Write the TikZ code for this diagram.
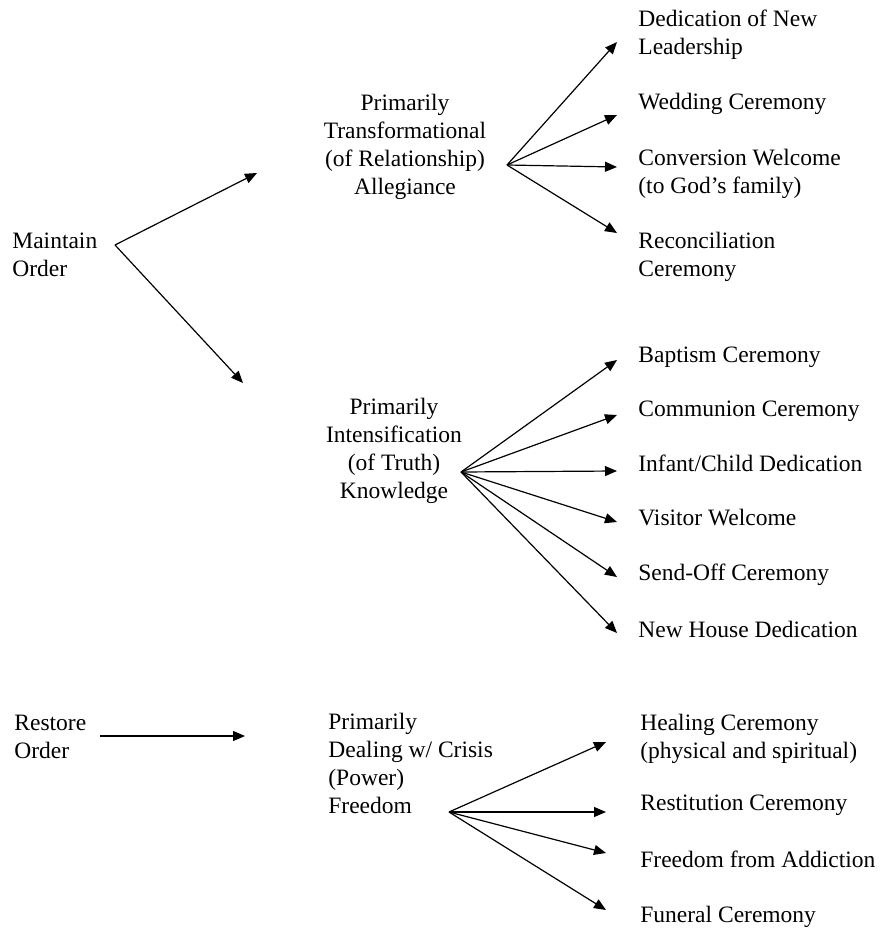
\documentclass[tikz,border=0pt]{standalone}
\usepackage{fontspec}
\setmainfont{Liberation Serif}
\usetikzlibrary{arrows.meta}

\begin{document}
\begin{tikzpicture}[
  x=0.5pt, y=-0.5pt,
  lbl/.style={anchor=base west, inner sep=0pt, align=left, font=\fontsize{11.75}{14}\selectfont},
  mid/.style={lbl, anchor=base, align=center},
  arr/.style={-{Triangle[length=6pt,width=5pt]}, line width=0.6pt}
]
\useasboundingbox (0,0) rectangle (882,930);

\node[lbl] (maintain) at (12,277) {Maintain\\Order};
\node[lbl] (restore) at (14,758) {Restore\\Order};

\node[mid] (transf) at (405,195) {Primarily\\Transformational\\(of Relationship)\\Allegiance};
\node[mid] (intens) at (394,498) {Primarily\\Intensification\\(of Truth)\\Knowledge};
\node[lbl] (crisis) at (328,813) {Primarily\\Dealing w/ Crisis\\(Power)\\Freedom};

\node[lbl] (newlead) at (638,55) {Dedication of New\\Leadership};
\node[lbl] (wedding) at (638,110) {Wedding Ceremony};
\node[lbl] (convert) at (638,194) {Conversion Welcome\\(to God’s family)};
\node[lbl] (reconcile) at (638,277) {Reconciliation\\Ceremony};

\node[lbl] (baptism) at (638,362) {Baptism Ceremony};
\node[lbl] (communion) at (638,416) {Communion Ceremony};
\node[lbl] (infant) at (638,471) {Infant/Child Dedication};
\node[lbl] (visitor) at (638,525) {Visitor Welcome};
\node[lbl] (sendoff) at (638,580) {Send-Off Ceremony};
\node[lbl] (newhouse) at (638,637) {New House Dedication};

\node[lbl] (healing) at (640,758) {Healing Ceremony\\(physical and spiritual)};
\node[lbl] (restitute) at (640,810) {Restitution Ceremony};
\node[lbl] (addiction) at (640,867) {Freedom from Addiction};
\node[lbl] (funeral) at (640,922) {Funeral Ceremony};

\coordinate (mhub) at (115,245);
\coordinate (mtop) at (257,173);
\coordinate (mbot) at (243,383);
\coordinate (rfrom) at (100,736);
\coordinate (rto) at (245,736);
\coordinate (thub) at (507,165);
\coordinate (ihub) at (461,472);
\coordinate (chub) at (449,812);
\foreach \n/\y in {t1/42, t2/115, t3/167, t4/233, i1/360, i2/415, i3/471, i4/522, i5/577, i6/633}
  \coordinate (\n) at (617,\y);
\foreach \n/\y in {c1/742, c2/812, c3/853, c4/910}
  \coordinate (\n) at (606,\y);

\draw[arr] (mhub) -- (mtop);
\draw[arr] (mhub) -- (mbot);
\draw[arr] (rfrom) -- (rto);
\foreach \n in {t1,t2,t3,t4}
  \draw[arr] (thub) -- (\n);
\foreach \n in {i1,i2,i3,i4,i5,i6}
  \draw[arr] (ihub) -- (\n);
\foreach \n in {c1,c2,c3,c4}
  \draw[arr] (chub) -- (\n);
\end{tikzpicture}
\end{document}
